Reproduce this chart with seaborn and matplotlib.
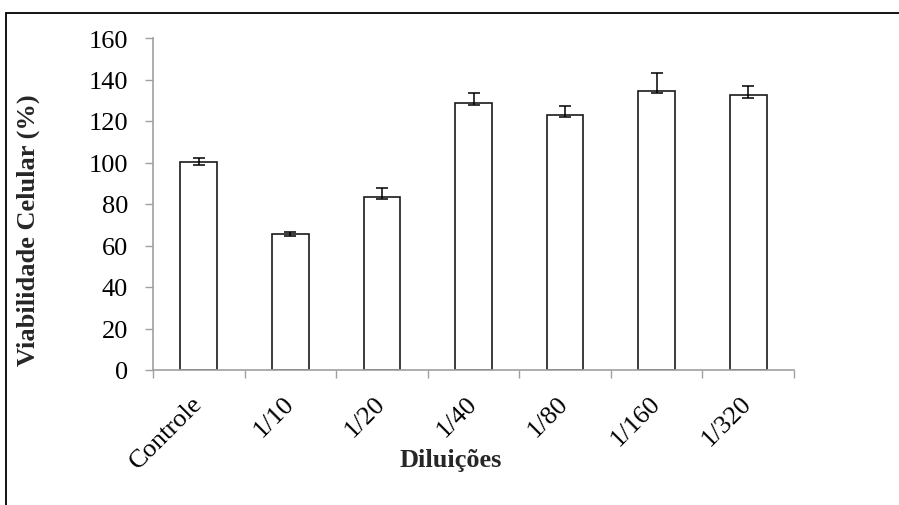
import matplotlib
matplotlib.use("Agg")
import matplotlib.pyplot as plt
import seaborn as sns
import numpy as np
import pandas as pd
from matplotlib.patches import Rectangle

categories = ["Controle", "1/10", "1/20", "1/40", "1/80", "1/160", "1/320"]
viabilidade = [100.2, 65.4, 83.5, 128.8, 123.0, 134.6, 132.4]
erro_sup = [2.0, 1.0, 4.0, 4.5, 4.3, 8.7, 4.3]
erro_inf = [1.3, 0.8, 1.3, 1.3, 1.3, 1.3, 1.3]
y_ticks = [0, 20, 40, 60, 80, 100, 120, 140, 160]

sns.set_theme(style="white")
plt.rcParams["font.family"] = ["Liberation Serif", "DejaVu Serif"]

df = pd.DataFrame({"Diluição": categories, "Viabilidade": viabilidade})

fig = plt.figure(figsize=(8.99, 5.06), dpi=100)
ax = fig.add_axes([153 / 899, 1 - 371 / 506, (794 - 153) / 899, (371 - 39) / 506])

# outer chart frame
fig.patches.append(Rectangle((6 / 899, -0.1), 1.2, 1 - 14 / 506 + 0.1,
                             transform=fig.transFigure, fill=False,
                             edgecolor="black", linewidth=1.3, zorder=0))

sns.barplot(data=df, x="Diluição", y="Viabilidade", ax=ax, width=0.4,
            color="white", edgecolor="#1a1a1a", linewidth=1.2,
            errorbar=None, saturation=1)
ax.errorbar(np.arange(len(categories)), viabilidade,
            yerr=[erro_inf, erro_sup], fmt="none",
            ecolor="black", elinewidth=1.1, capsize=4, capthick=1.1, zorder=3)

ax.set_ylim(0, 160)
ax.set_xlim(-0.5, len(categories) - 0.5)
ax.set_yticks(y_ticks)
ax.set_yticklabels([str(v) for v in y_ticks], fontsize=19)

ax.set_xticks(np.arange(len(categories)))
ax.set_xticklabels(categories, fontsize=19, rotation=45, ha="right",
                   va="center", rotation_mode="anchor")
ax.set_xticks(np.arange(-0.5, len(categories)), minor=True)
ax.tick_params(axis="x", which="major", length=0, pad=21)
ax.tick_params(axis="x", which="minor", length=6, width=1, color="#a0a0a0",
               direction="out", bottom=True)
ax.tick_params(axis="y", length=6, width=1, color="#a0a0a0", direction="out",
               left=True, pad=12)

for s in ["top", "right"]:
    ax.spines[s].set_visible(False)
for s in ["left", "bottom"]:
    ax.spines[s].set_color("#a0a0a0")
    ax.spines[s].set_linewidth(1.2)

ax.set_xlabel("Diluições", fontsize=19, fontweight="bold")
ax.set_ylabel("Viabilidade Celular (%)", fontsize=19, fontweight="bold")
ax.xaxis.set_label_coords(0.465, -0.235)
ax.yaxis.set_label_coords(-0.176, 0.425)
ax.tick_params(which="both", labelcolor="black")

fig.savefig("out.png", dpi=100)
